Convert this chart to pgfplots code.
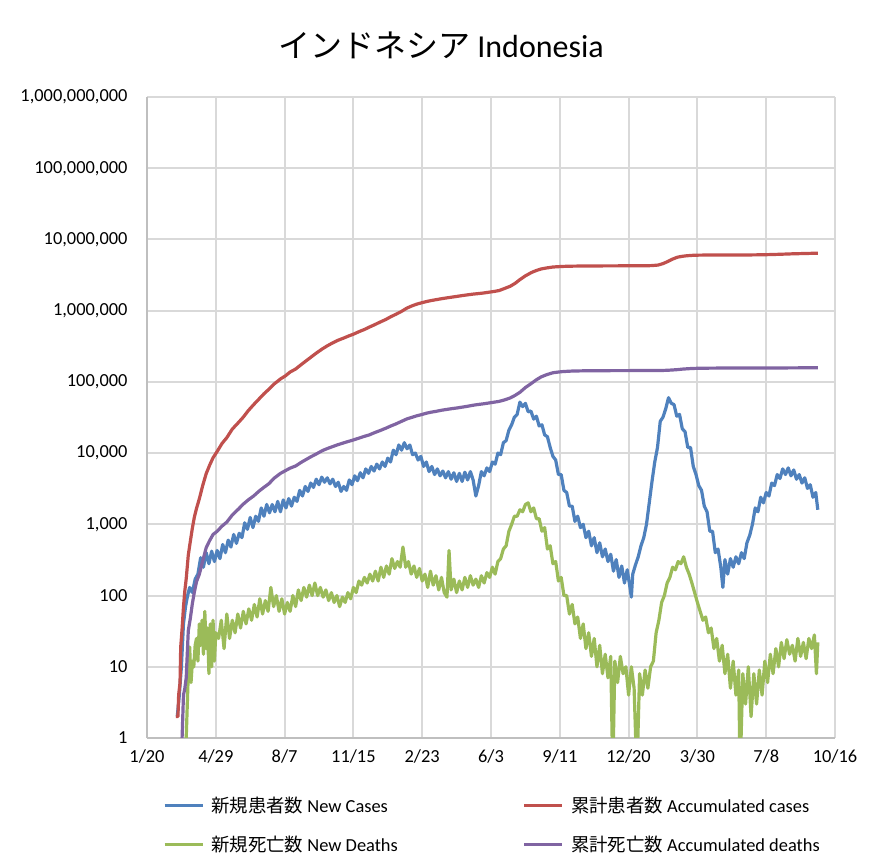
\documentclass[border=0pt]{standalone}
\usepackage{fontspec}
\setmainfont{Carlito}
\newfontfamily\cjk{Noto Sans CJK JP}
\usepackage{pgfplots}
\pgfplotsset{compat=1.18}
\definecolor{cBlue}{HTML}{4F81BD}
\definecolor{cRed}{HTML}{C0504D}
\definecolor{cGreen}{HTML}{9BBB59}
\definecolor{cPurple}{HTML}{8064A2}
\definecolor{cGrid}{HTML}{D9D9D9}
\definecolor{cAxis}{HTML}{BFBFBF}
\begin{document}
\begin{tikzpicture}[x=1pt,y=1pt]
\useasboundingbox (0,0) rectangle (882,866);
\node[font=\fontsize{32}{38}\selectfont, anchor=center] at (441,821) {{\cjk インドネシア} Indonesia};
\begin{axis}[
  at={(147pt,128pt)}, anchor=south west,
  width=688pt, height=641pt, scale only axis,
  xmin=0, xmax=1000, ymin=1, ymax=1e9, ymode=log,
  yminorticks=false,
  xtick={0,100,200,300,400,500,600,700,800,900,1000},
  xticklabels={1/20,4/29,8/7,11/15,2/23,6/3,9/11,12/20,3/30,7/8,10/16},
  ytick={1,10,100,1000,10000,100000,1000000,10000000,100000000,1000000000},
  yticklabels={1,10,100,{1,000},{10,000},{100,000},{1,000,000},{10,000,000},{100,000,000},{1,000,000,000}},
  tick label style={font=\fontsize{18.4}{22}\selectfont},
  grid=major,
  major grid style={draw=cGrid, line width=2pt},
  axis x line*=bottom, axis y line*=left,
  axis line style={draw=cAxis, line width=2pt},
  tick style={draw=none},
  xticklabel style={yshift=-8pt},
  yticklabel style={xshift=-16pt},
  legend columns=2,
  legend cell align=left,
  legend image code/.code={\draw[#1, line width=3.2pt] (0pt,0pt) -- (38pt,0pt);},
  legend style={at={(axis description cs:0.0187,-0.086)}, anchor=north west,
    draw=none, fill=none, font=\fontsize{18.4}{22}\selectfont,
    /tikz/every odd column/.append style={column sep=5pt},
    /tikz/every even column/.append style={column sep=123pt},
    row sep=18pt},
  every axis plot/.append style={line width=3.2pt, line join=round},
]
\addplot[cBlue] coordinates {(44,2) (47,4) (50,10) (53,40) (56,70) (59,100) (62,130) (66,110) (70,170) (74,200) (78,340) (82,250) (86,400) (90,280) (94,420) (98,300) (102,430) (106,330) (110,520) (114,400) (118,600) (122,480) (126,720) (130,540) (134,750) (138,650) (142,1050) (146,850) (150,1250) (154,900) (158,1300) (162,1100) (166,1700) (170,1300) (174,1900) (178,1450) (182,1900) (186,1500) (190,2100) (194,1500) (198,2200) (202,1700) (206,2300) (210,1800) (214,2400) (218,2100) (222,3000) (226,2500) (230,3400) (234,2900) (238,3800) (242,3300) (246,4300) (250,3600) (254,4600) (258,3900) (262,4500) (266,3700) (270,4300) (274,3400) (278,3900) (282,2900) (286,3400) (290,3000) (294,4200) (298,3600) (302,4800) (306,4100) (310,5300) (314,4500) (318,6000) (322,5200) (326,6500) (330,5600) (334,7000) (338,6000) (342,7500) (346,6500) (350,8500) (354,7500) (358,11000) (362,9500) (366,13000) (370,11000) (374,14000) (378,11500) (382,13000) (386,9500) (390,10000) (394,8000) (398,9000) (402,6500) (406,7500) (410,5500) (414,6500) (418,5000) (422,6000) (426,4800) (430,5600) (434,4500) (438,5500) (442,4300) (446,5300) (450,4000) (454,5200) (458,4000) (462,5400) (466,4200) (470,5500) (474,4200) (478,2500) (482,3500) (486,5500) (490,4800) (494,6200) (498,5500) (502,7500) (506,7000) (510,10000) (514,9500) (518,14000) (522,15000) (526,21000) (530,25000) (534,32000) (538,35000) (542,52000) (546,45000) (550,50000) (554,38000) (558,39000) (562,30000) (566,33000) (570,24000) (574,25000) (578,18000) (582,17000) (586,12000) (590,9000) (594,8000) (598,5000) (602,5000) (606,3000) (610,2800) (614,1800) (618,1800) (622,1100) (626,1300) (630,900) (634,1000) (638,650) (642,800) (646,500) (650,650) (654,400) (658,550) (662,350) (666,450) (670,300) (674,380) (678,220) (682,320) (686,180) (690,260) (694,150) (698,230) (702,130) (704,95) (706,200) (710,270) (714,350) (718,500) (722,650) (726,1000) (730,2000) (734,4000) (738,7500) (742,12000) (746,28000) (750,32000) (754,42000) (758,60000) (762,50000) (766,48000) (770,33000) (774,35000) (778,22000) (782,20000) (786,12000) (790,12000) (794,6500) (798,5000) (802,3500) (806,3000) (810,1800) (814,1500) (818,800) (822,800) (826,400) (830,450) (834,250) (837,130) (840,320) (844,200) (848,330) (852,250) (856,350) (860,280) (864,400) (868,330) (872,550) (876,700) (880,1000) (884,1700) (888,1500) (892,2400) (896,2000) (900,2800) (904,2500) (908,3800) (912,3500) (916,5000) (920,4400) (924,6000) (928,5000) (932,6200) (936,4800) (940,5800) (944,4300) (948,5000) (952,3800) (956,4500) (960,3200) (964,3600) (968,2400) (972,2800) (975,1600)};
\addlegendentry{{\cjk 新規患者数} New Cases}
\addplot[cRed] coordinates {(42,2) (45,2) (46,4) (48,6) (49,19) (51,34) (53,69) (55,117) (57,172) (60,369) (63,579) (66,893) (69,1285) (72,1677) (76,2273) (81,3512) (86,5136) (91,6760) (96,8607) (102,10551) (109,13645) (116,16496) (124,21745) (133,26940) (140,32033) (147,39294) (155,47896) (163,57770) (170,68079) (177,78572) (185,93657) (194,109936) (201,121226) (208,137468) (216,151498) (225,177571) (232,200035) (239,225030) (247,257388) (255,291182) (262,320564) (269,349160) (277,381910) (286,412784) (293,440569) (300,467113) (308,506302) (316,543975) (323,586842) (330,629429) (338,685639) (347,751270) (354,818386) (361,882418) (369,965283) (378,1089308) (385,1166079) (392,1233959) (399,1288833) (406,1341314) (413,1386556) (420,1425044) (428,1471225) (437,1517854) (444,1552880) (451,1589359) (459,1632248) (467,1672880) (474,1707722) (481,1734285) (489,1768645) (498,1821703) (505,1863031) (512,1919547) (520,2053995) (528,2203108) (535,2417788) (542,2726803) (550,3082410) (559,3440396) (566,3666031) (573,3854354) (581,3979456) (590,4100138) (597,4140634) (604,4178164) (612,4201559) (620,4218142) (635,4235384) (651,4245373) (666,4251945) (681,4256687) (697,4260000) (712,4263103) (719,4266000) (726,4271649) (734,4294000) (743,4369465) (750,4580000) (757,4901632) (764,5300000) (771,5630096) (778,5800000) (785,5905212) (793,5980000) (802,6019981) (817,6040000) (832,6046467) (847,6051000) (863,6056017) (878,6064000) (893,6086212) (908,6136000) (924,6210000) (940,6290000) (955,6340000) (965,6378000) (975,6408000)};
\addlegendentry{{\cjk 累計患者数} Accumulated cases}
\addplot[cGreen] coordinates {(52,0.3) (56,0.5) (58,2) (60,8) (62,19) (64,6) (66,12) (68,10) (70,20) (72,25) (74,12) (76,40) (78,20) (80,45) (82,15) (84,60) (86,18) (88,35) (90,8) (92,40) (94,10) (96,45) (98,12) (100,30) (104,25) (108,45) (112,18) (116,55) (120,25) (124,45) (128,30) (132,55) (136,35) (140,60) (144,40) (148,65) (152,45) (156,75) (160,50) (164,90) (168,55) (172,85) (176,60) (180,130) (184,70) (188,100) (192,60) (196,90) (200,55) (204,80) (208,60) (212,100) (216,70) (220,120) (224,85) (228,130) (232,95) (236,140) (240,100) (244,150) (248,100) (252,130) (256,95) (260,120) (264,85) (268,110) (272,80) (276,100) (280,70) (284,95) (288,80) (292,110) (296,90) (300,130) (304,110) (308,160) (312,140) (316,180) (320,150) (324,200) (328,160) (332,220) (336,160) (340,250) (344,180) (348,260) (352,200) (356,330) (360,240) (364,300) (368,250) (372,480) (376,250) (380,300) (384,200) (388,260) (392,180) (396,240) (400,160) (404,200) (408,130) (412,220) (416,140) (420,190) (424,120) (428,180) (432,110) (436,95) (439,430) (442,120) (446,170) (450,110) (454,160) (458,120) (462,180) (466,130) (470,190) (474,140) (478,170) (482,130) (486,190) (490,150) (494,210) (498,180) (502,250) (506,200) (510,300) (514,330) (518,450) (522,500) (526,800) (530,1000) (534,1300) (538,1300) (542,1600) (546,1500) (550,1900) (554,2000) (558,1500) (562,1700) (566,1200) (570,1200) (574,800) (578,900) (582,450) (586,500) (590,280) (594,300) (598,160) (602,180) (606,100) (610,100) (614,55) (618,75) (622,40) (626,50) (630,25) (634,40) (638,18) (642,30) (646,14) (650,25) (654,10) (658,20) (662,8) (666,15) (670,7) (674,14) (677,0.3) (680,12) (684,6) (688,14) (692,8) (696,10) (700,4) (704,10) (708,5) (712,0.3) (716,8) (720,4) (724,9) (728,5) (732,10) (736,12) (740,30) (744,45) (748,80) (752,100) (756,150) (760,180) (764,250) (768,230) (772,300) (776,280) (780,350) (784,250) (788,200) (792,150) (796,110) (800,80) (804,60) (808,45) (812,50) (816,30) (820,35) (824,18) (828,25) (832,12) (836,20) (840,8) (844,15) (848,5) (852,12) (856,4) (860,9) (862,0.3) (866,8) (870,3) (874,10) (878,2) (882,8) (886,3) (890,9) (894,4) (898,12) (902,6) (906,15) (910,8) (914,18) (918,10) (922,22) (926,13) (930,24) (934,15) (938,20) (942,12) (946,25) (950,14) (954,22) (958,13) (962,25) (966,18) (970,28) (973,8) (975,22)};
\addlegendentry{{\cjk 新規死亡数} New Deaths}
\addplot[cPurple] coordinates {(51,1) (53,4) (55,5) (57,7) (60,32) (63,48) (66,78) (69,114) (72,157) (76,198) (81,306) (86,469) (91,590) (96,720) (102,800) (109,943) (116,1076) (124,1351) (133,1641) (140,1923) (147,2198) (155,2500) (163,2934) (170,3309) (177,3710) (185,4459) (194,5193) (201,5658) (208,6150) (216,6594) (225,7505) (232,8211) (239,8965) (247,9837) (255,10856) (262,11580) (269,12268) (277,13077) (286,13943) (293,14617) (300,15296) (308,16225) (316,17199) (323,18000) (330,19248) (338,20589) (347,22329) (354,23947) (361,25484) (369,27664) (378,30277) (385,31763) (392,33367) (399,34691) (406,36325) (413,37547) (420,38573) (428,39983) (437,41242) (444,42227) (451,43073) (459,44346) (467,45652) (474,47012) (481,48093) (489,49205) (498,50723) (505,51992) (512,53280) (520,55949) (528,59534) (535,64631) (542,71397) (550,83279) (559,95723) (566,107096) (573,117588) (581,126372) (590,134356) (597,137156) (604,139415) (612,140954) (620,142173) (635,143000) (651,143500) (666,143728) (681,143850) (697,143986) (712,144096) (727,144183) (743,144373) (750,144800) (757,145622) (764,147000) (771,148660) (778,151000) (785,152745) (793,154300) (802,155288) (817,155900) (832,156257) (863,156604) (893,156726) (924,157028) (955,157560) (975,157900)};
\addlegendentry{{\cjk 累計死亡数} Accumulated deaths}
\end{axis}
\end{tikzpicture}
\end{document}
